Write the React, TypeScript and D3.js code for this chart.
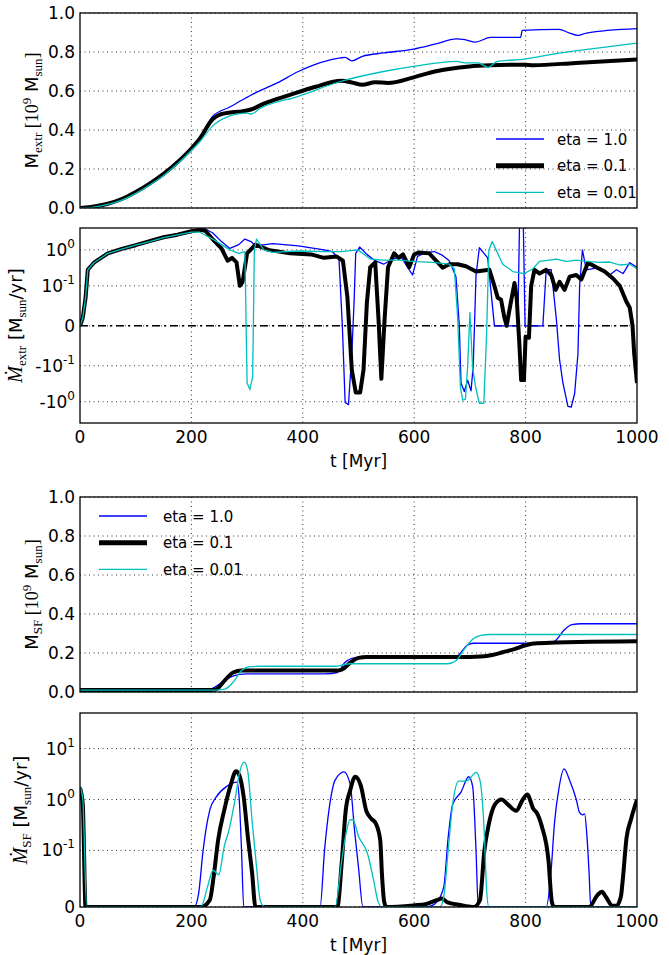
import React from "react";
import * as d3 from "d3";

// ---------- data ----------
const X_TICKS = [0, 200, 400, 600, 800, 1000];
const X_GRID = [200, 400, 600, 800];
const LIN_TICKS = [0, 0.2, 0.4, 0.6, 0.8, 1.0];

const P2_TICKS = [1, 0.1, 0, -0.1, -1];
const P2_TICK_BASE = ["10", "10", "0", "-10", "-10"];
const P2_TICK_EXP = ["0", "-1", "", "-1", "0"];
const P4_TICKS = [10, 1, 0.1, 0];
const P4_TICK_BASE = ["10", "10", "10", "0"];
const P4_TICK_EXP = ["1", "0", "-1", ""];

const LEGEND_LABELS = ["eta = 1.0", "eta = 0.1", "eta = 0.01"];

// Panel 1: M_extr [1e9 Msun]
const T_MEX_BLUE = [0, 10, 25, 50, 75, 100, 125, 150, 175, 200, 215, 238, 269, 292, 315, 353, 392, 430, 468, 476, 488, 507, 545, 599, 637, 676, 691, 710, 737, 791, 794, 860, 879, 894, 909, 1000];
const MEX_BLUE = [0, 0.002, 0.008, 0.022, 0.046, 0.082, 0.125, 0.175, 0.235, 0.305, 0.355, 0.47, 0.518, 0.555, 0.59, 0.64, 0.70, 0.744, 0.77, 0.772, 0.755, 0.778, 0.795, 0.815, 0.84, 0.867, 0.863, 0.851, 0.875, 0.875, 0.911, 0.916, 0.897, 0.885, 0.897, 0.92];
const T_MEX_BLACK = [0, 10, 25, 50, 75, 100, 125, 150, 175, 200, 215, 238, 250, 277, 290, 307, 330, 377, 423, 469, 488, 507, 530, 553, 599, 637, 699, 737, 798, 814, 890, 1000];
const MEX_BLACK = [0, 0.002, 0.008, 0.022, 0.046, 0.082, 0.125, 0.175, 0.235, 0.305, 0.355, 0.455, 0.478, 0.492, 0.495, 0.505, 0.535, 0.58, 0.622, 0.652, 0.644, 0.632, 0.645, 0.641, 0.67, 0.70, 0.726, 0.732, 0.735, 0.732, 0.744, 0.761];
const T_MEX_CYAN = [0, 10, 25, 50, 75, 100, 125, 150, 175, 200, 215, 238, 269, 290, 300, 307, 323, 392, 469, 545, 599, 676, 691, 714, 733, 748, 798, 852, 929, 1000];
const MEX_CYAN = [0, 0.001, 0.005, 0.018, 0.040, 0.075, 0.118, 0.167, 0.227, 0.295, 0.34, 0.42, 0.472, 0.485, 0.487, 0.482, 0.51, 0.573, 0.65, 0.70, 0.726, 0.752, 0.744, 0.744, 0.721, 0.75, 0.764, 0.79, 0.82, 0.846];

// Panel 2: dM_extr/dt [Msun/yr]
const T_DEX_BLUE = [0, 5, 10, 14, 25, 50, 75, 100, 125, 150, 175, 200, 215, 225, 238, 254, 269, 285, 296, 307, 315, 346, 392, 438, 453, 465, 471, 476, 482, 488, 492, 495, 502, 515, 530, 545, 561, 576, 597, 606, 621, 636, 651, 663, 675, 681, 684, 690, 696, 702, 706, 711, 717, 732, 744, 786, 789, 796, 799, 831, 837, 846, 855, 861, 867, 876, 882, 888, 894, 897, 902, 909, 921, 933, 951, 963, 975, 987, 1000];
const DEX_BLUE = [0, 0.02, 0.07, 0.27, 0.42, 0.78, 1.05, 1.3, 1.7, 2.2, 2.6, 3.3, 3.9, 3.8, 3.0, 1.7, 1.1, 1.4, 2.0, 1.7, 1.3, 1.5, 1.3, 1.0, 0.9, 0.55, 0, -1.05, -1.2, -0.07, 0.057, 0.8, 1.2, 0.75, 0.5, 0.4, 0.55, 0.65, 0.2, 0.66, 0.85, 0.9, 0.7, 0.5, 0.18, 0, -0.3, -0.52, -0.25, -0.5, -0.1, 0.2, 1.15, 0.6, 0, 0, 4.2, 4.2, 0, 0, 0.28, 0.28, 0.02, -0.085, -0.3, -1.35, -1.4, -0.6, -0.07, 0.1, 1.0, 0.28, 0.3, 0.32, 0.2, 0.28, 0.22, 0.44, 0.33];
const T_DEX_BLACK = [0, 5, 10, 14, 25, 50, 75, 100, 125, 150, 175, 200, 215, 225, 238, 254, 265, 273, 281, 287, 292, 300, 315, 338, 377, 415, 438, 461, 472, 480, 488, 495, 503, 509, 515, 521, 530, 536, 541, 547, 553, 564, 572, 580, 591, 600, 609, 627, 651, 663, 678, 693, 711, 735, 744, 750, 756, 762, 766, 771, 780, 784, 789, 792, 797, 800, 806, 810, 816, 825, 837, 846, 854, 861, 870, 879, 891, 900, 912, 927, 942, 957, 969, 981, 987, 992, 995, 1000];
const DEX_BLACK = [0, 0.02, 0.07, 0.28, 0.44, 0.8, 1.07, 1.35, 1.75, 2.25, 2.65, 3.3, 3.6, 3.4, 2.0, 1.1, 0.5, 0.6, 0.45, 0.1, 0.13, 0.8, 1.4, 1.0, 0.8, 0.75, 0.6, 0.65, 0.5, 0.073, -0.13, -0.55, -0.55, -0.13, 0.057, 0.33, 0.45, 0.015, -0.23, 0.02, 0.33, 0.8, 0.6, 0.75, 0.33, 0.75, 0.85, 0.8, 0.32, 0.4, 0.4, 0.35, 0.25, 0.28, 0.1, 0.07, 0.065, 0.02, 0, 0.04, 0.12, 0.07, -0.05, -0.25, -0.25, -0.027, -0.03, 0.1, 0.28, 0.22, 0.28, 0.2, 0.09, 0.13, 0.09, 0.18, 0.2, 0.15, 0.44, 0.33, 0.25, 0.16, 0.1, 0.06, 0.045, 0, -0.07, -0.3];
const T_DEX_CYAN = [0, 5, 10, 14, 25, 50, 75, 100, 125, 150, 175, 200, 215, 238, 254, 269, 285, 296, 300, 305, 310, 313, 317, 330, 346, 392, 438, 469, 499, 522, 545, 573, 603, 633, 663, 672, 678, 683, 687, 692, 696, 700, 705, 711, 717, 725, 730, 734, 740, 747, 759, 777, 798, 813, 825, 843, 855, 873, 891, 909, 933, 951, 969, 987, 1000];
const DEX_CYAN = [0, 0.02, 0.07, 0.28, 0.44, 0.8, 1.05, 1.35, 1.7, 2.2, 2.6, 3.1, 3.1, 2.0, 1.4, 1.0, 0.8, 0.9, -0.3, -0.46, -0.2, 1.0, 2.0, 1.0, 0.85, 0.93, 0.9, 0.9, 1.0, 0.55, 0.52, 0.52, 0.47, 0.45, 0.4, 0.3, 0.02, -0.4, -0.9, -0.85, -0.1, 0.033, -0.12, -0.45, -1.1, -1.1, -0.02, 1.0, 1.7, 1.0, 0.4, 0.25, 0.22, 0.3, 0.48, 0.52, 0.55, 0.48, 0.52, 0.48, 0.45, 0.46, 0.38, 0.4, 0.3];

// Panel 3: M_SF [1e9 Msun]
const T_MSF_BLUE = [0, 200, 230, 245, 265, 286, 300, 440, 462, 475, 493, 510, 670, 680, 695, 706, 720, 840, 852, 870, 883, 900, 1000];
const MSF_BLUE = [0.01, 0.01, 0.012, 0.03, 0.07, 0.09, 0.093, 0.093, 0.1, 0.15, 0.175, 0.178, 0.178, 0.19, 0.24, 0.25, 0.25, 0.25, 0.26, 0.32, 0.345, 0.35, 0.35];
const T_MSF_BLACK = [0, 230, 245, 260, 275, 290, 460, 470, 485, 500, 515, 700, 720, 740, 760, 780, 800, 820, 1000];
const MSF_BLACK = [0.01, 0.01, 0.015, 0.06, 0.1, 0.11, 0.11, 0.115, 0.15, 0.175, 0.18, 0.18, 0.182, 0.19, 0.205, 0.22, 0.24, 0.25, 0.26];
const T_MSF_CYAN = [0, 240, 260, 275, 290, 305, 320, 460, 470, 485, 500, 660, 675, 690, 705, 720, 735, 1000];
const MSF_CYAN = [0.01, 0.01, 0.015, 0.05, 0.11, 0.13, 0.132, 0.132, 0.138, 0.145, 0.145, 0.145, 0.16, 0.22, 0.27, 0.29, 0.295, 0.295];

// Panel 4: dM_SF/dt [Msun/yr]
const T_DSF_BLUE = [0, 5, 12, 20, 205, 213, 221, 233, 244, 263, 282, 286, 290, 294, 431, 439, 447, 458, 474, 485, 493, 500, 508, 623, 638, 653, 661, 669, 684, 698, 705, 711, 715, 837, 845, 852, 860, 869, 879, 891, 897, 902, 906, 910, 914, 917, 1000];
const DSF_BLUE = [1.8, 0.9, 0, 0, 0, 0.024, 0.1, 0.62, 1.1, 1.8, 2.2, 0.97, 0.1, 0, 0, 0.1, 0.62, 2.4, 3.5, 2.0, 0.24, 0.07, 0, 0, 0.006, 0.035, 0.18, 0.8, 1.4, 2.8, 1.8, 0.1, 0, 0, 0.054, 0.36, 1.7, 4.0, 2.4, 1.0, 0.55, 0.5, 0.52, 0.2, 0.06, 0, 0];
const T_DSF_BLACK = [0, 5, 10, 20, 217, 233, 240, 248, 259, 271, 280, 286, 294, 301, 309, 315, 462, 470, 477, 485, 494, 504, 514, 523, 531, 539, 542, 546, 550, 600, 620, 640, 650, 660, 680, 707, 718, 726, 734, 745, 757, 768, 783, 795, 803, 814, 820, 829, 841, 847, 851, 914, 929, 937, 944, 956, 963, 971, 975, 981, 989, 1000];
const DSF_BLACK = [1.7, 0.8, 0, 0, 0, 0.012, 0.054, 0.16, 0.62, 2.0, 3.6, 3.0, 1.1, 0.2, 0.06, 0, 0, 0.08, 0.6, 1.5, 2.8, 1.9, 0.6, 0.42, 0.34, 0.16, 0.06, 0.01, 0, 0.003, 0.005, 0.012, 0.015, 0.008, 0.004, 0, 0.012, 0.1, 0.33, 0.8, 1.0, 0.8, 0.6, 1.0, 1.25, 0.65, 0.55, 0.3, 0.083, 0.01, 0, 0, 0.021, 0.027, 0.018, 0.002, 0.002, 0.018, 0.054, 0.17, 0.4, 1.0];
const T_DSF_CYAN = [0, 5, 12, 20, 217, 229, 239, 249, 259, 267, 279, 286, 295, 301, 309, 317, 324, 332, 458, 470, 477, 485, 490, 500, 516, 527, 535, 542, 646, 653, 661, 669, 680, 692, 697, 711, 718, 726, 730, 734, 1000];
const DSF_CYAN = [1.8, 1.0, 0, 0, 0, 0.036, 0.065, 0.057, 0.12, 0.24, 1.1, 3.2, 5.4, 3.7, 0.38, 0.07, 0.01, 0, 0, 0.083, 0.2, 0.4, 0.4, 0.19, 0.095, 0.048, 0.01, 0, 0, 0.018, 0.1, 0.8, 2.3, 2.3, 2.4, 3.4, 2.4, 0.2, 0.03, 0, 0];

// ---------- style ----------
const BLUE = "#0000ff";
const BLACK = "#000000";
const CYAN = "#00bfbf";
const SANS = "'DejaVu Sans', sans-serif";
const SERIF = "'Liberation Serif', 'DejaVu Serif', serif";
const W = 669;
const H = 955;
const X0 = 80;
const X1 = 637;

const xScale = d3.scaleLinear().domain([0, 1000]).range([X0, X1]);

// matplotlib-like symlog (linthresh 0.1, linscale 1)
const LINTHRESH = 0.1;
const LINSCALE = 1 / (1 - 1 / 10);
function symT(v: number) {
  const a = Math.abs(v);
  if (a <= LINTHRESH) return (v / LINTHRESH) * LINSCALE;
  return Math.sign(v) * (LINSCALE + Math.log10(a / LINTHRESH));
}
function makeSymlog(domain: [number, number], range: [number, number]) {
  const lin = d3.scaleLinear().domain(domain.map(symT)).range(range);
  return (v: number) => lin(symT(v));
}

type Series = { t: number[]; v: number[]; color: string; width: number };

function seriesPath(s: Series, y: (v: number) => number, curve: any) {
  const idx = d3.range(s.t.length);
  const gen = d3
    .line<number>()
    .x((i) => xScale(s.t[i]))
    .y((i) => y(s.v[i]))
    .curve(curve);
  return gen(idx) || "";
}

type PanelProps = {
  id: string;
  top: number;
  bottom: number;
  y: (v: number) => number;
  yTicks: number[];
  yTickLabel: (i: number) => React.ReactNode;
  series: Series[];
  curve: any;
  xLabels: boolean;
  zeroLine?: boolean;
};

function Panel(p: PanelProps) {
  const { id, top, bottom, y } = p;
  return (
    <g>
      <defs>
        <clipPath id={id}>
          <rect x={X0} y={top} width={X1 - X0} height={bottom - top} />
        </clipPath>
      </defs>
      {X_GRID.map((t) => (
        <line key={"gx" + t} x1={xScale(t)} x2={xScale(t)} y1={top} y2={bottom} stroke="#000" strokeWidth={0.8} strokeDasharray="1,3.5" />
      ))}
      {p.yTicks.map((v) => (
        <line key={"gy" + v} x1={X0} x2={X1} y1={y(v)} y2={y(v)} stroke="#000" strokeWidth={0.8} strokeDasharray="1,3.5" />
      ))}
      {p.zeroLine && (
        <line x1={X0} x2={X1} y1={y(0)} y2={y(0)} stroke="#000" strokeWidth={1.4} strokeDasharray="8,4,2,4" />
      )}
      <g clipPath={`url(#${id})`}>
        {p.series.map((s, i) => (
          <path key={i} d={seriesPath(s, y, p.curve)} fill="none" stroke={s.color} strokeWidth={s.width} strokeLinejoin="round" strokeLinecap="butt" />
        ))}
      </g>
      <rect x={X0} y={top} width={X1 - X0} height={bottom - top} fill="none" stroke="#000" strokeWidth={1.3} />
      {p.yTicks.map((v, i) => (
        <text key={"yl" + v} x={75} y={y(v) + 6} textAnchor="end" fontFamily={SANS} fontSize={17} fill="#000">
          {p.yTickLabel(i)}
        </text>
      ))}
      {p.xLabels && (
        <g>
          {X_TICKS.map((t) => (
            <text key={"xl" + t} x={xScale(t)} y={bottom + 20} textAnchor="middle" fontFamily={SANS} fontSize={17} fill="#000">
              {String(t)}
            </text>
          ))}
          <text x={(X0 + X1) / 2} y={bottom + 44} textAnchor="middle" fontFamily={SANS} fontSize={17} fill="#000">
            t [Myr]
          </text>
        </g>
      )}
    </g>
  );
}

function Legend({ x, y0, dy, gap }: { x: number; y0: number; dy: number; gap: number }) {
  const colors = [BLUE, BLACK, CYAN];
  const widths = [1.3, 5, 1.3];
  return (
    <g>
      {LEGEND_LABELS.map((lab, i) => (
        <g key={lab}>
          <line x1={x} x2={x + 48} y1={y0 + i * dy} y2={y0 + i * dy} stroke={colors[i]} strokeWidth={widths[i]} />
          <text x={x + 48 + gap} y={y0 + i * dy + 5.5} fontFamily={SANS} fontSize={15} fill="#000">
            {lab}
          </text>
        </g>
      ))}
    </g>
  );
}

function SymTick({ base, exp }: { base: string; exp: string }) {
  return (
    <>
      <tspan>{base}</tspan>
      {exp && (
        <tspan fontSize={12} dy={-8}>
          {exp}
        </tspan>
      )}
    </>
  );
}

export default function App() {
  const P1 = { top: 13, bottom: 208 };
  const P2 = { top: 228, bottom: 423 };
  const P3 = { top: 497, bottom: 692 };
  const P4 = { top: 713, bottom: 907 };

  const y1 = d3.scaleLinear().domain([0, 1]).range([P1.bottom, P1.top]);
  const y2 = makeSymlog([-3.9, 4.06], [P2.bottom, P2.top]);
  const y3 = d3.scaleLinear().domain([0, 1]).range([P3.bottom, P3.top]);
  const y4 = makeSymlog([0, 50], [P4.bottom, P4.top]);

  const s1: Series[] = [
    { t: T_MEX_BLUE, v: MEX_BLUE, color: BLUE, width: 1.3 },
    { t: T_MEX_BLACK, v: MEX_BLACK, color: BLACK, width: 4 },
    { t: T_MEX_CYAN, v: MEX_CYAN, color: CYAN, width: 1.3 },
  ];
  const s2: Series[] = [
    { t: T_DEX_BLUE, v: DEX_BLUE, color: BLUE, width: 1.3 },
    { t: T_DEX_BLACK, v: DEX_BLACK, color: BLACK, width: 4 },
    { t: T_DEX_CYAN, v: DEX_CYAN, color: CYAN, width: 1.3 },
  ];
  const s3: Series[] = [
    { t: T_MSF_BLUE, v: MSF_BLUE, color: BLUE, width: 1.3 },
    { t: T_MSF_BLACK, v: MSF_BLACK, color: BLACK, width: 4 },
    { t: T_MSF_CYAN, v: MSF_CYAN, color: CYAN, width: 1.3 },
  ];
  const s4: Series[] = [
    { t: T_DSF_BLUE, v: DSF_BLUE, color: BLUE, width: 1.3 },
    { t: T_DSF_BLACK, v: DSF_BLACK, color: BLACK, width: 4 },
    { t: T_DSF_CYAN, v: DSF_CYAN, color: CYAN, width: 1.3 },
  ];

  const linLabel = (i: number) => LIN_TICKS[i].toFixed(1);

  return (
    <svg width={W} height={H} viewBox={`0 0 ${W} ${H}`} style={{ display: "block", position: "absolute", left: 0, top: 0, background: "#fff" }}>
      <rect x={0} y={0} width={W} height={H} fill="#fff" />
      <Panel id="c1" {...P1} y={y1} yTicks={LIN_TICKS} yTickLabel={linLabel} series={s1} curve={d3.curveMonotoneX} xLabels={false} />
      <Panel
        id="c2"
        {...P2}
        y={y2}
        yTicks={P2_TICKS}
        yTickLabel={(i) => <SymTick base={P2_TICK_BASE[i]} exp={P2_TICK_EXP[i]} />}
        series={s2}
        curve={d3.curveLinear}
        xLabels={true}
        zeroLine={true}
      />
      <Panel id="c3" {...P3} y={y3} yTicks={LIN_TICKS} yTickLabel={linLabel} series={s3} curve={d3.curveMonotoneX} xLabels={false} />
      <Panel
        id="c4"
        {...P4}
        y={y4}
        yTicks={P4_TICKS}
        yTickLabel={(i) => <SymTick base={P4_TICK_BASE[i]} exp={P4_TICK_EXP[i]} />}
        series={s4}
        curve={d3.curveMonotoneX}
        xLabels={true}
      />

      <Legend x={496} y0={139} dy={26.7} gap={13} />
      <Legend x={99} y0={516} dy={26.7} gap={16} />

      <text transform={`translate(38,${(P1.top + P1.bottom) / 2}) rotate(-90)`} textAnchor="middle" fontSize={18} fill="#000">
        <tspan fontFamily={SANS}>M</tspan>
        <tspan fontFamily={SERIF} fontSize={13} dy={4}>extr</tspan>
        <tspan fontFamily={SERIF} dy={-4}>{" [10"}</tspan>
        <tspan fontFamily={SERIF} fontSize={13} dy={-7}>9</tspan>
        <tspan fontFamily={SANS} dy={7}>{" M"}</tspan>
        <tspan fontFamily={SERIF} fontSize={13} dy={4}>sun</tspan>
        <tspan fontFamily={SERIF} dy={-4}>]</tspan>
      </text>
      <text transform={`translate(22,${(P2.top + P2.bottom) / 2}) rotate(-90)`} textAnchor="middle" fontSize={18} fill="#000">
        <tspan fontFamily={SERIF} fontStyle="italic" fontSize={20}>Ṁ</tspan>
        <tspan fontFamily={SERIF} fontSize={13} dy={4}>extr</tspan>
        <tspan fontFamily={SANS} dy={-4}>{" [M"}</tspan>
        <tspan fontFamily={SERIF} fontSize={13} dy={4}>sun</tspan>
        <tspan fontFamily={SANS} dy={-4}>/yr]</tspan>
      </text>
      <text transform={`translate(38,${(P3.top + P3.bottom) / 2}) rotate(-90)`} textAnchor="middle" fontSize={18} fill="#000">
        <tspan fontFamily={SANS}>M</tspan>
        <tspan fontFamily={SERIF} fontSize={13} dy={4}>SF</tspan>
        <tspan fontFamily={SERIF} dy={-4}>{" [10"}</tspan>
        <tspan fontFamily={SERIF} fontSize={13} dy={-7}>9</tspan>
        <tspan fontFamily={SANS} dy={7}>{" M"}</tspan>
        <tspan fontFamily={SERIF} fontSize={13} dy={4}>sun</tspan>
        <tspan fontFamily={SERIF} dy={-4}>]</tspan>
      </text>
      <text transform={`translate(27,${(P4.top + P4.bottom) / 2}) rotate(-90)`} textAnchor="middle" fontSize={18} fill="#000">
        <tspan fontFamily={SERIF} fontStyle="italic" fontSize={20}>Ṁ</tspan>
        <tspan fontFamily={SERIF} fontSize={13} dy={4}>SF</tspan>
        <tspan fontFamily={SANS} dy={-4}>{" [M"}</tspan>
        <tspan fontFamily={SERIF} fontSize={13} dy={4}>sun</tspan>
        <tspan fontFamily={SANS} dy={-4}>/yr]</tspan>
      </text>
    </svg>
  );
}
